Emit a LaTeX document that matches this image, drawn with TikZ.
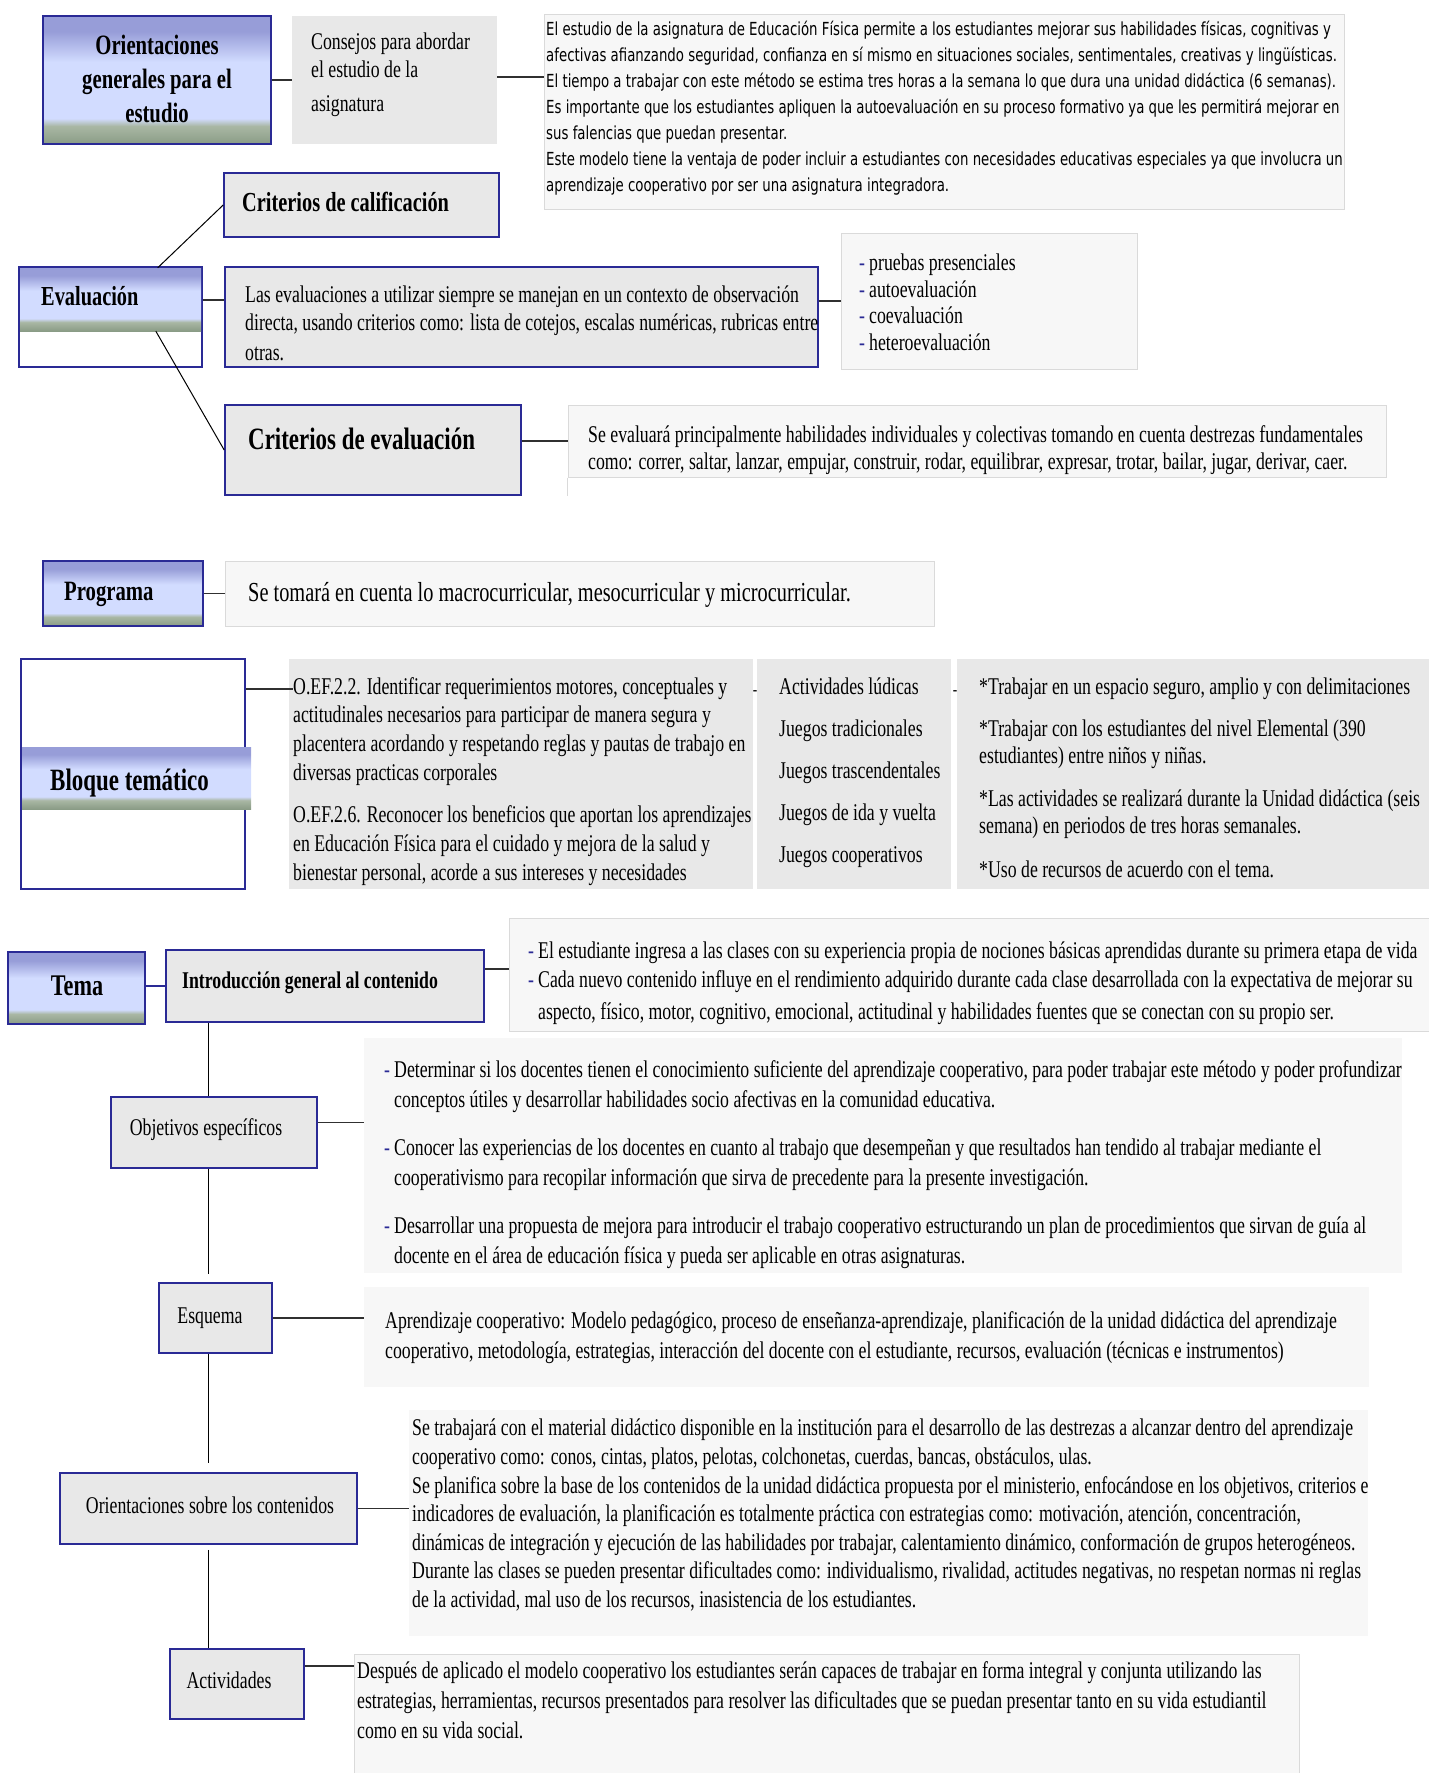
\documentclass[tikz,border=0pt]{standalone}
\usepackage{fontspec}
\setmainfont[FakeStretch=0.74]{Liberation Serif}
\newfontfamily\condsans[FakeStretch=0.74]{DejaVu Sans}
\usetikzlibrary{calc,fit}

\definecolor{navy}{HTML}{2A2A95}
\definecolor{boxgrey}{HTML}{E8E8E8}
\definecolor{paper}{HTML}{F7F7F7}
\definecolor{paperline}{HTML}{DADADA}
\definecolor{linegrey}{HTML}{303030}
\definecolor{gradtop}{HTML}{979DD8}
\definecolor{gradmid}{HTML}{D2DCFF}
\definecolor{gradlow}{HTML}{A9B7A4}
\definecolor{gradbot}{HTML}{8A9C86}

\pgfdeclareverticalshading{titlegrad}{100bp}{color(0bp)=(gradbot); color(25bp)=(gradbot); color(32bp)=(gradlow); color(35bp)=(gradmid); color(57bp)=(gradmid); color(69bp)=(gradtop); color(100bp)=(gradtop)}

\tikzset{titlebox/.style = {draw=navy, line width=1.6pt, inner sep=0, shade, shading=titlegrad}}
\tikzset{bandbox/.style = {inner sep=0, shade, shading=titlegrad}}
\tikzset{framebox/.style = {draw=navy, line width=1.6pt, inner sep=0, fill=boxgrey}}
\tikzset{whitebox/.style = {draw=navy, line width=1.6pt, inner sep=0, fill=white}}
\tikzset{greybox/.style = {fill=boxgrey, inner sep=0}}
\tikzset{paperbox/.style = {draw=paperline, line width=1pt, fill=paper, inner sep=0}}
\tikzset{plainbox/.style = {fill=paper, inner sep=0}}
\tikzset{link/.style = {draw=linegrey, line width=1.6pt}}
\tikzset{stem/.style = {draw=black, line width=1pt}}
\tikzset{body/.style = {inner sep=0, anchor=north west, align=left, font=\fontsize{24}{28}\selectfont, execute at begin node=\strut}}
\tikzset{headtxt/.style = {inner sep=0, anchor=west, font=\bfseries\fontsize{#1}{#1}\selectfont, execute at begin node=\strut}}
\tikzset{boxtext/.style = {inner sep=0, font=\fontsize{24}{24}\selectfont, execute at begin node=\strut}}

\newcommand{\itemdash}{\makebox[10pt][l]{\textcolor{navy}{-}}}
\newcommand{\itemgap}{\hspace*{10pt}}

\begin{document}
\begin{tikzpicture}[x=1pt, y=-1pt]
  \useasboundingbox (0,0) rectangle (1429,1773);

  % orientaciones generales
  \node[titlebox, fit={(43,16) (271,144)}] (orient) {};
  \node[headtxt=28, anchor=north, align=center, font=\bfseries\fontsize{28}{34}\selectfont] (orienttxt) at (157,35) {Orientaciones\\generales para el\\estudio};
  \node[greybox, fit={(292,16) (497,144)}] (consejos) {};
  \node[body] (consejostxt) at (311,33) {Consejos para abordar\\el estudio de la\\[6pt]asignatura};
  \node[paperbox, fit={(544,14) (1344,209)}] (estudio) {};
  \node[body, font=\condsans\fontsize{18}{26}\selectfont] (estudiotxt) at (546,21) {El estudio de la asignatura de Educación Física permite a los estudiantes mejorar sus habilidades físicas, cognitivas y\\afectivas afianzando seguridad, confianza en sí mismo en situaciones sociales, sentimentales, creativas y lingüísticas.\\El tiempo a trabajar con este método se estima tres horas a la semana lo que dura una unidad didáctica (6 semanas).\\Es importante que los estudiantes apliquen la autoevaluación en su proceso formativo ya que les permitirá mejorar en\\sus falencias que puedan presentar.\\Este modelo tiene la ventaja de poder incluir a estudiantes con necesidades educativas especiales ya que involucra un\\aprendizaje cooperativo por ser una asignatura integradora.};
  \draw[link] (orient.east) -- (consejos.west);
  \draw[link] ([yshift=3pt]consejos.east) -- ([yshift=3pt]consejos.east -| estudio.west);

  % evaluacion
  \node[whitebox, fit={(19,267) (202,367)}] (eval) {};
  \node[bandbox, fit={(20,268) (201,331)}] (evalband) {};
  \node[headtxt=27.5] (evaltxt) at (41,300) {Evaluación};
  \node[framebox, fit={(224,173) (499,237)}] (critcal) {};
  \node[headtxt=27.5] (critcaltxt) at (242,206) {Criterios de calificación};
  \node[framebox, fit={(225,267) (818,367)}] (lasev) {};
  \node[body] (lasevtxt) at (245,286) {Las evaluaciones a utilizar siempre se manejan en un contexto de observación\\directa, usando criterios como: lista de cotejos, escalas numéricas, rubricas entre\\[2pt]otras.};
  \node[paperbox, fit={(841,233) (1137,369)}] (evlist) {};
  \node[body, font=\fontsize{24}{26.5}\selectfont] (evlisttxt) at (859,254) {\itemdash pruebas presenciales\\\itemdash autoevaluación\\\itemdash coevaluación\\\itemdash heteroevaluación};
  \node[framebox, fit={(225,405) (521,495)}] (critev) {};
  \node[headtxt=31] (critevtxt) at (248,443) {Criterios de evaluación};
  \node[paperbox, fit={(568,405) (1386,477)}] (seeval) {};
  \node[body, font=\fontsize{24}{27}\selectfont] (seevaltxt) at (588,425) {Se evaluará principalmente habilidades individuales y colectivas tomando en cuenta destrezas fundamentales\\como: correr, saltar, lanzar, empujar, construir, rodar, equilibrar, expresar, trotar, bailar, jugar, derivar, caer.};
  \draw[paperline, line width=1pt] (seeval.south west) -- ++(0,18);
  \draw[stem] ($(evalband.north west)!0.76!(evalband.north east)$) -- (critcal.west);
  \draw[link] (eval.east |- evaltxt) -- (lasev.west |- evaltxt);
  \draw[link] (lasev.east |- evlist.west) -- (evlist.west);
  \draw[stem] ($(evalband.south west)!0.75!(evalband.south east)$) -- (critev.west);
  \draw[link] (critev.east |- seeval.west) -- (seeval.west);

  % programa
  \node[titlebox, fit={(43,561) (203,626)}] (programa) {};
  \node[headtxt=28] (programatxt) at (64,595) {Programa};
  \node[paperbox, fit={(225,561) (934,626)}] (macro) {};
  \node[boxtext, anchor=west, font=\fontsize{27.5}{27.5}\selectfont] (macrotxt) at (248,596) {Se tomará en cuenta lo macrocurricular, mesocurricular y microcurricular.};
  \draw[link] (programa.east) -- (macro.west);

  % bloque tematico
  \node[whitebox, fit={(21,659) (245,889)}] (bloque) {};
  \node[bandbox, fit={(22,747) (251,809)}] (bloqueband) {};
  \node[headtxt=31] (bloquetxt) at (50,784) {Bloque temático};
  \node[greybox, fit={(289,659) (753,889)}] (oef) {};
  \node[body, font=\fontsize{24}{28.7}\selectfont] (oeftxt) at (293,677) {O.EF.2.2. Identificar requerimientos motores, conceptuales y\\actitudinales necesarios para participar de manera segura y\\placentera acordando y respetando reglas y pautas de trabajo en\\diversas practicas corporales\\[14pt]O.EF.2.6. Reconocer los beneficios que aportan los aprendizajes\\en Educación Física para el cuidado y mejora de la salud y\\bienestar personal, acorde a sus intereses y necesidades};
  \node[greybox, fit={(757,659) (951,889)}] (juegos) {};
  \node[body] (juegostxt) at (779,678) {Actividades lúdicas\\[14pt]Juegos tradicionales\\[14pt]Juegos trascendentales\\[14pt]Juegos de ida y vuelta\\[14pt]Juegos cooperativos};
  \node[greybox, fit={(957,659) (1429,889)}] (pautas) {};
  \node[body, font=\fontsize{24}{27}\selectfont] (pautastxt) at (979,678) {*Trabajar en un espacio seguro, amplio y con delimitaciones\\[15pt]*Trabajar con los estudiantes del nivel Elemental (390\\estudiantes) entre niños y niñas.\\[16pt]*Las actividades se realizará durante la Unidad didáctica (seis\\semana) en periodos de tres horas semanales.\\[17pt]*Uso de recursos de acuerdo con el tema.};
  \draw[link] (bloque.north east) ++(0,31) coordinate (bloqueout) -- (bloqueout -| oeftxt.west);
  \node[boxtext, font=\fontsize{18}{18}\selectfont] (oefdash) at (755,692) {-};
  \node[boxtext, font=\fontsize{18}{18}\selectfont] (juegosdash) at (955,692) {-};

  % tema
  \node[titlebox, fit={(8,952) (145,1024)}] (tema) {};
  \node[headtxt=30, anchor=center] (tematxt) at (77,989) {Tema};
  \node[framebox, fit={(166,950) (484,1022)}] (intro) {};
  \node[headtxt=24] (introtxt) at (182,984) {Introducción general al contenido};
  \node[paperbox, fit={(509,918) (1429,1031)}] (introbox) {};
  \node[body, font=\fontsize{24}{29}\selectfont] (introboxtxt) at (528,942) {\itemdash El estudiante ingresa a las clases con su experiencia propia de nociones básicas aprendidas durante su primera etapa de vida\\\itemdash Cada nuevo contenido influye en el rendimiento adquirido durante cada clase desarrollada con la expectativa de mejorar su\\[3pt]\itemgap aspecto, físico, motor, cognitivo, emocional, actitudinal y habilidades fuentes que se conectan con su propio ser.};
  \draw[navy, line width=1.6pt] (tema.east |- intro.west) -- (intro.west);
  \draw[link] ([yshift=17pt]intro.east) -- ([yshift=17pt]intro.east -| introbox.west);

  \node[framebox, fit={(111,1097) (317,1168)}] (obj) {};
  \node[boxtext] (objtxt) at (206,1131) {Objetivos específicos};
  \node[plainbox, fit={(364,1038) (1402,1273)}] (objbox) {};
  \node[body, font=\fontsize{24}{30}\selectfont] (objboxtxt) at (384,1060) {\itemdash Determinar si los docentes tienen el conocimiento suficiente del aprendizaje cooperativo, para poder trabajar este método y poder profundizar\\\itemgap conceptos útiles y desarrollar habilidades socio afectivas en la comunidad educativa.\\[18pt]\itemdash Conocer las experiencias de los docentes en cuanto al trabajo que desempeñan y que resultados han tendido al trabajar mediante el\\\itemgap cooperativismo para recopilar información que sirva de precedente para la presente investigación.\\[18pt]\itemdash Desarrollar una propuesta de mejora para introducir el trabajo cooperativo estructurando un plan de procedimientos que sirvan de guía al\\\itemgap docente en el área de educación física y pueda ser aplicable en otras asignaturas.};

  \node[framebox, fit={(159,1283) (272,1353)}] (esq) {};
  \node[boxtext] (esqtxt) at (210,1319) {Esquema};
  \node[plainbox, fit={(364,1287) (1369,1387)}] (esqbox) {};
  \node[body, font=\fontsize{24}{30}\selectfont] (esqboxtxt) at (385,1311) {Aprendizaje cooperativo: Modelo pedagógico, proceso de enseñanza-aprendizaje, planificación de la unidad didáctica del aprendizaje\\cooperativo, metodología, estrategias, interacción del docente con el estudiante, recursos, evaluación (técnicas e instrumentos)};

  \node[framebox, fit={(60,1473) (357,1544)}] (ori) {};
  \node[boxtext] (oritxt) at (210,1509) {Orientaciones sobre los contenidos};
  \node[plainbox, fit={(409,1410) (1368,1636)}] (oribox) {};
  \node[body, font=\fontsize{24}{28.6}\selectfont] (oriboxtxt) at (412,1419) {Se trabajará con el material didáctico disponible en la institución para el desarrollo de las destrezas a alcanzar dentro del aprendizaje\\cooperativo como: conos, cintas, platos, pelotas, colchonetas, cuerdas, bancas, obstáculos, ulas.\\Se planifica sobre la base de los contenidos de la unidad didáctica propuesta por el ministerio, enfocándose en los objetivos, criterios e\\indicadores de evaluación, la planificación es totalmente práctica con estrategias como: motivación, atención, concentración,\\dinámicas de integración y ejecución de las habilidades por trabajar, calentamiento dinámico, conformación de grupos heterogéneos.\\Durante las clases se pueden presentar dificultades como: individualismo, rivalidad, actitudes negativas, no respetan normas ni reglas\\de la actividad, mal uso de los recursos, inasistencia de los estudiantes.};

  \node[framebox, fit={(170,1649) (304,1719)}] (act) {};
  \node[boxtext] (acttxt) at (229,1684) {Actividades};
  \node[paperbox, fit={(354,1654) (1299,1773)}] (actbox) {};
  \node[body, font=\fontsize{24}{30}\selectfont] (actboxtxt) at (357,1661) {Después de aplicado el modelo cooperativo los estudiantes serán capaces de trabajar en forma integral y conjunta utilizando las\\estrategias, herramientas, recursos presentados para resolver las dificultades que se puedan presentar tanto en su vida estudiantil\\como en su vida social.};

  \draw[stem] (intro.south -| ori.north) -- (obj.north -| ori.north);
  \draw[stem, shorten >=8pt] (obj.south -| ori.north) -- (esq.north -| ori.north);
  \draw[stem, shorten >=9pt] (esq.south -| ori.north) -- (ori.north);
  \draw[stem, shorten <=5pt] (ori.south) -- (ori.south |- act.north);
  \draw[link] ([yshift=10pt]obj.east) -- ([yshift=10pt]obj.east -| objbox.west);
  \draw[link] (esq.east) -- (esq.east -| esqbox.west);
  \draw[link] (ori.east) -- (ori.east -| oribox.west);
  \draw[link] ([yshift=18pt]act.east) -- ([yshift=18pt]act.east -| actbox.west);
\end{tikzpicture}
\end{document}
